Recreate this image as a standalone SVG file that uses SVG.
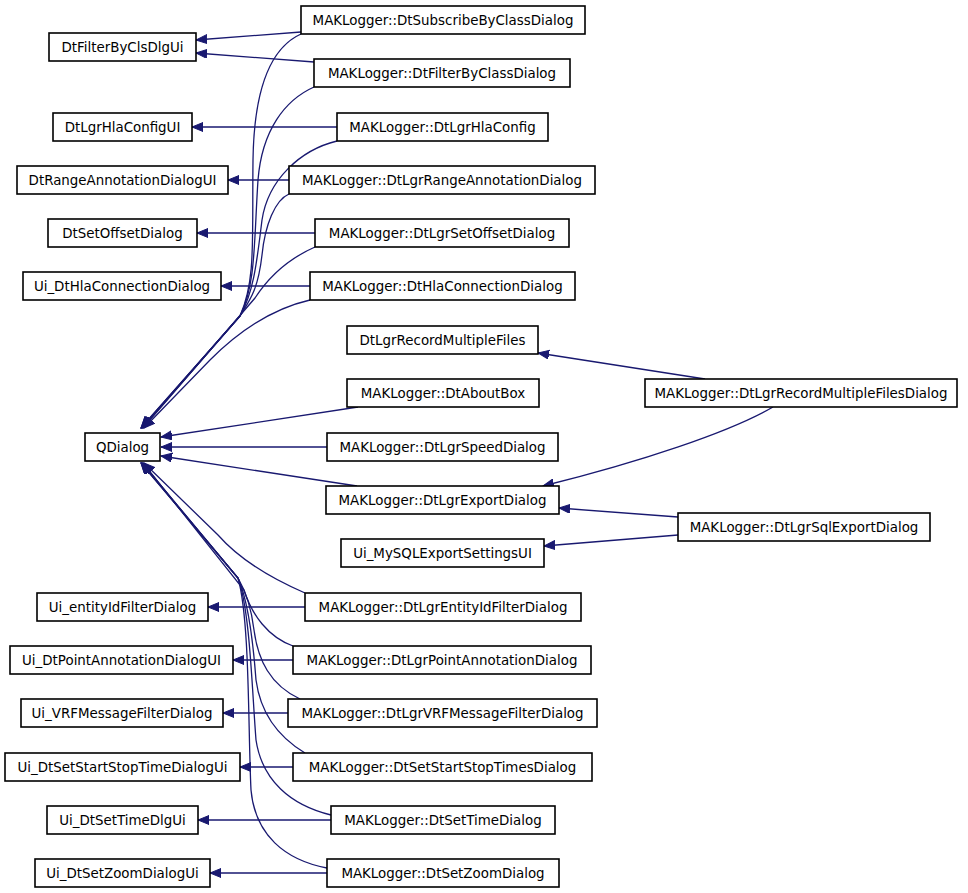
<svg xmlns="http://www.w3.org/2000/svg" width="968" height="893" viewBox="0 0 968 893">
<style>
.n rect{fill:#fff;stroke:#000;stroke-width:1.6}
.n text{font-family:"DejaVu Sans",sans-serif;font-size:13.4px;text-anchor:middle;fill:#000}
.e path{fill:none;stroke:#191970;stroke-width:1.3;marker-end:url(#ah)}
</style>
<defs>
<marker id="ah" markerWidth="12" markerHeight="10" refX="11" refY="4.5" orient="auto" markerUnits="userSpaceOnUse"><path d="M0,0 L11,4.5 L0,9 z" fill="#191970" stroke="#191970" stroke-width="1"/></marker>
</defs>
<rect width="968" height="893" fill="#fff"/>
<g class="e" id="edges">
<path d="M301,32 L196,40"/>
<path d="M314,62 L196,53"/>
<path d="M337,127 L192,127"/>
<path d="M289,180 L228,180"/>
<path d="M315,233 L197,233"/>
<path d="M310,286 L221,286"/>
<path d="M705,379 L538,353"/>
<path d="M773,407 C730,432 640,462 543,486"/>
<path d="M678,517 L559,508"/>
<path d="M678,535 L544,546"/>
<path d="M305,607 L208,607"/>
<path d="M293,660 L233,660"/>
<path d="M288,713 L223,713"/>
<path d="M293,767 L240,767"/>
<path d="M331,820 L198,820"/>
<path d="M327,873 L210,873"/>
<path d="M301,34 C270,48 254,90 253,160 C252,240 256,280 240,316 L141,428"/>
<path d="M314,87 C285,100 262,130 258,180 C254,240 256,285 240,316 L141,428"/>
<path d="M337,141 C300,150 268,180 262,220 C257,260 254,292 240,316 L142,428"/>
<path d="M289,194 C275,200 265,225 262,255 C258,290 250,300 240,316 L142,428"/>
<path d="M315,247 C290,258 270,275 255,298 L143,428"/>
<path d="M310,300 C275,308 240,330 210,360 L144,428"/>
<path d="M358,407 L161,437"/>
<path d="M327,447 L161,447"/>
<path d="M357,486 L161,456"/>
<path d="M305,593 C275,580 240,560 218,535 L144,463"/>
<path d="M293,646 C268,637 252,615 244,590 L143,463"/>
<path d="M300,699 C270,685 258,660 254,630 C251,605 245,590 238,578 L142,463"/>
<path d="M305,753 C275,735 260,710 256,680 C253,640 248,600 238,578 L142,463"/>
<path d="M331,815 C290,805 262,780 256,740 C252,690 250,610 238,578 L141,463"/>
<path d="M327,868 C285,860 255,835 251,790 C248,730 250,620 238,578 L141,463"/>
</g>
<g class="n" id="DtFilterByClsDlgUi"><rect x="49" y="33" width="147" height="28"/><text x="122.5" y="52">DtFilterByClsDlgUi</text></g>
<g class="n" id="DtLgrHlaConfigUI"><rect x="53" y="113" width="139" height="28"/><text x="122.5" y="132">DtLgrHlaConfigUI</text></g>
<g class="n" id="DtRangeAnnotationDialogUI"><rect x="17" y="166" width="211" height="28"/><text x="122.5" y="185">DtRangeAnnotationDialogUI</text></g>
<g class="n" id="DtSetOffsetDialog"><rect x="48" y="219" width="149" height="28"/><text x="122.5" y="238">DtSetOffsetDialog</text></g>
<g class="n" id="Ui_DtHlaConnectionDialog"><rect x="23" y="272" width="198" height="28"/><text x="122" y="291">Ui_DtHlaConnectionDialog</text></g>
<g class="n" id="QDialog"><rect x="85" y="433" width="75" height="28"/><text x="122.5" y="452">QDialog</text></g>
<g class="n" id="Ui_entityIdFilterDialog"><rect x="37" y="593" width="171" height="28"/><text x="122.5" y="612">Ui_entityIdFilterDialog</text></g>
<g class="n" id="Ui_DtPointAnnotationDialogUI"><rect x="10" y="646" width="223" height="28"/><text x="121.5" y="665">Ui_DtPointAnnotationDialogUI</text></g>
<g class="n" id="Ui_VRFMessageFilterDialog"><rect x="21" y="699" width="202" height="28"/><text x="122" y="718">Ui_VRFMessageFilterDialog</text></g>
<g class="n" id="Ui_DtSetStartStopTimeDialogUi"><rect x="5" y="753" width="235" height="28"/><text x="122.5" y="772">Ui_DtSetStartStopTimeDialogUi</text></g>
<g class="n" id="Ui_DtSetTimeDlgUi"><rect x="47" y="806" width="151" height="28"/><text x="122.5" y="825">Ui_DtSetTimeDlgUi</text></g>
<g class="n" id="Ui_DtSetZoomDialogUi"><rect x="35" y="859" width="175" height="28"/><text x="122.5" y="878">Ui_DtSetZoomDialogUi</text></g>
<g class="n" id="DtSubscribeByClassDialog"><rect x="301" y="6" width="284" height="28"/><text x="443" y="25">MAKLogger::DtSubscribeByClassDialog</text></g>
<g class="n" id="DtFilterByClassDialog"><rect x="314" y="59" width="256" height="28"/><text x="442" y="78">MAKLogger::DtFilterByClassDialog</text></g>
<g class="n" id="DtLgrHlaConfig"><rect x="337" y="113" width="211" height="28"/><text x="442.5" y="132">MAKLogger::DtLgrHlaConfig</text></g>
<g class="n" id="DtLgrRangeAnnotationDialog"><rect x="289" y="166" width="306" height="28"/><text x="442" y="185">MAKLogger::DtLgrRangeAnnotationDialog</text></g>
<g class="n" id="DtLgrSetOffsetDialog"><rect x="315" y="219" width="254" height="28"/><text x="442" y="238">MAKLogger::DtLgrSetOffsetDialog</text></g>
<g class="n" id="DtHlaConnectionDialog"><rect x="310" y="272" width="265" height="28"/><text x="442.5" y="291">MAKLogger::DtHlaConnectionDialog</text></g>
<g class="n" id="DtLgrRecordMultipleFiles"><rect x="347" y="326" width="191" height="28"/><text x="442.5" y="345">DtLgrRecordMultipleFiles</text></g>
<g class="n" id="DtAboutBox"><rect x="347" y="379" width="192" height="28"/><text x="443" y="398">MAKLogger::DtAboutBox</text></g>
<g class="n" id="DtLgrSpeedDialog"><rect x="327" y="433" width="231" height="28"/><text x="442.5" y="452">MAKLogger::DtLgrSpeedDialog</text></g>
<g class="n" id="DtLgrExportDialog"><rect x="326" y="486" width="233" height="28"/><text x="442.5" y="505">MAKLogger::DtLgrExportDialog</text></g>
<g class="n" id="Ui_MySQLExportSettingsUI"><rect x="341" y="539" width="203" height="28"/><text x="442.5" y="558">Ui_MySQLExportSettingsUI</text></g>
<g class="n" id="DtLgrEntityIdFilterDialog"><rect x="305" y="593" width="276" height="28"/><text x="443" y="612">MAKLogger::DtLgrEntityIdFilterDialog</text></g>
<g class="n" id="DtLgrPointAnnotationDialog"><rect x="293" y="646" width="298" height="28"/><text x="442" y="665">MAKLogger::DtLgrPointAnnotationDialog</text></g>
<g class="n" id="DtLgrVRFMessageFilterDialog"><rect x="288" y="699" width="309" height="28"/><text x="442.5" y="718">MAKLogger::DtLgrVRFMessageFilterDialog</text></g>
<g class="n" id="DtSetStartStopTimesDialog"><rect x="293" y="753" width="299" height="28"/><text x="442.5" y="772">MAKLogger::DtSetStartStopTimesDialog</text></g>
<g class="n" id="DtSetTimeDialog"><rect x="331" y="806" width="224" height="28"/><text x="443" y="825">MAKLogger::DtSetTimeDialog</text></g>
<g class="n" id="DtSetZoomDialog"><rect x="327" y="859" width="232" height="28"/><text x="443" y="878">MAKLogger::DtSetZoomDialog</text></g>
<g class="n" id="DtLgrRecordMultipleFilesDialog"><rect x="645" y="379" width="312" height="28"/><text x="801" y="398">MAKLogger::DtLgrRecordMultipleFilesDialog</text></g>
<g class="n" id="DtLgrSqlExportDialog"><rect x="678" y="513" width="252" height="28"/><text x="804" y="532">MAKLogger::DtLgrSqlExportDialog</text></g>
</svg>
